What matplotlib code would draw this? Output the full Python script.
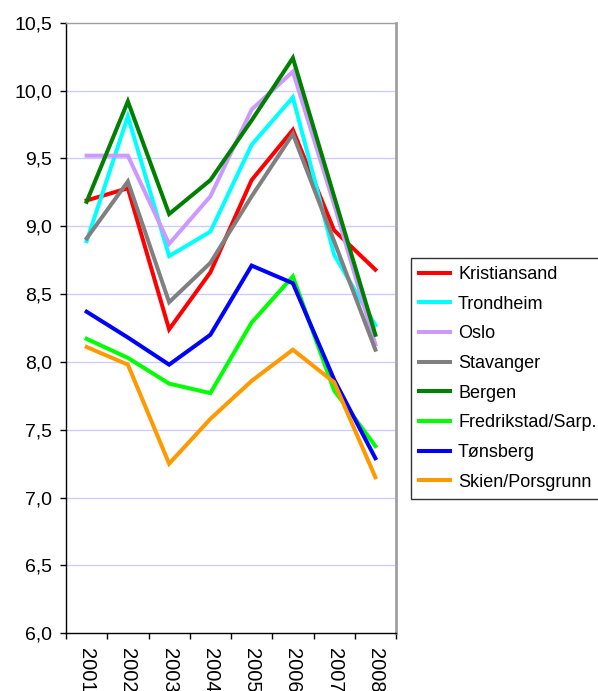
import matplotlib
matplotlib.use("Agg")
import matplotlib.pyplot as plt
import numpy as np

plt.rcParams['font.family'] = ['Liberation Sans', 'DejaVu Sans']

years = ["2001", "2002", "2003", "2004", "2005", "2006", "2007", "2008"]
series_names = ["Kristiansand", "Trondheim", "Oslo", "Stavanger", "Bergen",
                "Fredrikstad/Sarp.", "Tønsberg", "Skien/Porsgrunn"]
kristiansand = [9.19, 9.28, 8.24, 8.66, 9.34, 9.71, 8.97, 8.68]
trondheim = [8.89, 9.81, 8.78, 8.96, 9.60, 9.95, 8.79, 8.27]
oslo = [9.52, 9.52, 8.87, 9.22, 9.86, 10.14, 9.16, 8.13]
stavanger = [8.91, 9.33, 8.44, 8.73, 9.22, 9.68, 8.89, 8.09]
bergen = [9.18, 9.92, 9.09, 9.34, 9.78, 10.24, 9.22, 8.20]
fredrikstad = [8.17, 8.03, 7.84, 7.77, 8.29, 8.63, 7.79, 7.38]
tonsberg = [8.37, 8.18, 7.98, 8.20, 8.71, 8.58, 7.87, 7.29]
skien = [8.11, 7.98, 7.25, 7.58, 7.86, 8.09, 7.85, 7.15]
series_values = [kristiansand, trondheim, oslo, stavanger, bergen,
                 fredrikstad, tonsberg, skien]
colors = ["#ff0000", "#00ffff", "#cc99ff", "#808080", "#008000",
          "#00ff00", "#0000ff", "#ff9900"]
y_ticks = [6.0, 6.5, 7.0, 7.5, 8.0, 8.5, 9.0, 9.5, 10.0, 10.5]
y_tick_labels = ["6,0", "6,5", "7,0", "7,5", "8,0", "8,5", "9,0", "9,5", "10,0", "10,5"]

fig = plt.figure(figsize=(5.98, 6.91), dpi=100)
ax = fig.add_axes([66/598, 1-633.3/691, 330/598, (633.3-22.7)/691])

x = np.arange(len(years))
handles = []
for name, vals, c in zip(series_names, series_values, colors):
    h, = ax.plot(x, vals, color=c, lw=2.9, solid_joinstyle='miter', label=name)
    handles.append(h)

ax.set_xlim(-0.5, len(years) - 0.5)
ax.set_ylim(6.0, 10.5)
ax.set_yticks(y_ticks)
ax.set_yticklabels(y_tick_labels, fontsize=14)
for yv in y_ticks[1:-1]:
    ax.axhline(yv, color="#ccccff", lw=1, zorder=0)

ax.set_xticks(x)
ax.set_xticklabels(years, rotation=-90, fontsize=14.5, va='top', ha='center')
ax.set_xticks(np.arange(-0.5, len(years)), minor=True)
ax.tick_params(axis='x', which='major', length=0, pad=10.5)
ax.tick_params(axis='x', which='minor', length=4, width=1, direction='out')
ax.tick_params(axis='y', length=4, width=1, direction='out', pad=6)

ax.spines['top'].set_color('#a0a0a0')
ax.spines['top'].set_linewidth(1)
ax.spines['right'].set_color('#a0a0a0')
ax.spines['right'].set_linewidth(2)
ax.spines['left'].set_linewidth(1)
ax.spines['bottom'].set_linewidth(1)

leg = fig.legend(handles=handles, loc='upper left',
                 bbox_to_anchor=(411/598, 1-258/691), fontsize=13,
                 frameon=True, fancybox=False, edgecolor='black',
                 handlelength=1.72, handletextpad=0.44, labelspacing=0.70,
                 borderpad=0.45, borderaxespad=0)
leg.get_frame().set_linewidth(1)

fig.savefig("out.png", dpi=100)
